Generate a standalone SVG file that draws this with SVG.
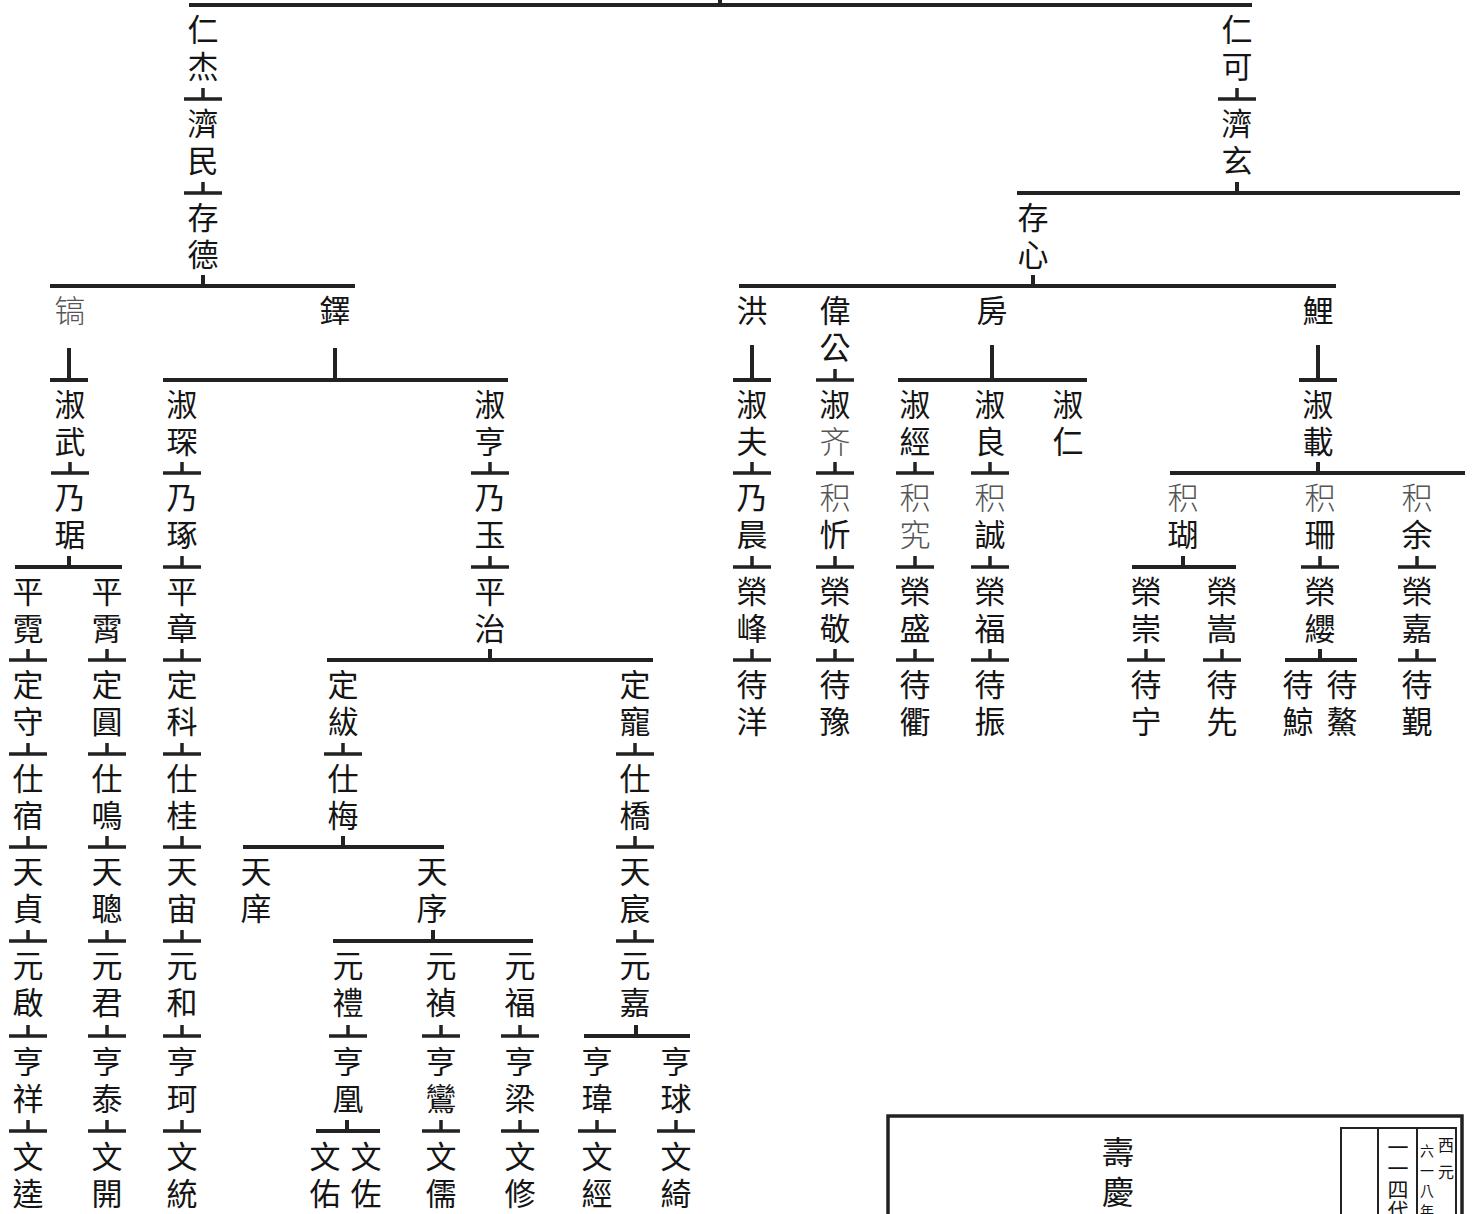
<svg xmlns="http://www.w3.org/2000/svg" xmlns:xlink="http://www.w3.org/1999/xlink" width="1475" height="1214" viewBox="0 0 1475 1214">
<style>
.n{font-family:"Noto Sans CJK TC","Noto Sans CJK SC",sans-serif;font-size:31px;fill:#151515;writing-mode:vertical-rl;letter-spacing:6px}
.l{font-weight:300;fill:#555}
.c{fill:none;stroke:#222;stroke-width:4}
.t{fill:none;stroke:#222;stroke-width:3.5}
.box{fill:none;stroke:#222}
.s{font-family:"Noto Sans CJK TC","Noto Sans CJK SC",sans-serif;fill:#151515;writing-mode:vertical-rl}
</style>
<defs>
<path id="tee" d="M-19,0H19M0,0V-11" class="t"/>
</defs>
<rect width="1475" height="1214" fill="#fff"/>
<g id="connectors">
<path class="c" d="M720,0V5M189,5H1252"/>
<use xlink:href="#tee" x="203" y="99"/>
<use xlink:href="#tee" x="203" y="193"/>
<path class="c" d="M50,286H355M203,275V286"/>
<path class="c" d="M69,348V380M50,380H88"/>
<path class="c" d="M335,348V380M163,380H508"/>
<use xlink:href="#tee" x="70" y="473"/>
<use xlink:href="#tee" x="182" y="473"/>
<use xlink:href="#tee" x="490" y="473"/>
<path class="c" d="M15,567H122M69,556V567"/>
<use xlink:href="#tee" x="182" y="567"/>
<use xlink:href="#tee" x="490" y="567"/>
<use xlink:href="#tee" x="28" y="660"/>
<use xlink:href="#tee" x="107" y="660"/>
<use xlink:href="#tee" x="182" y="660"/>
<path class="c" d="M327,660H653M490,649V660"/>
<use xlink:href="#tee" x="28" y="754"/>
<use xlink:href="#tee" x="107" y="754"/>
<use xlink:href="#tee" x="182" y="754"/>
<use xlink:href="#tee" x="343" y="754"/>
<use xlink:href="#tee" x="635" y="754"/>
<use xlink:href="#tee" x="28" y="847"/>
<use xlink:href="#tee" x="107" y="847"/>
<use xlink:href="#tee" x="182" y="847"/>
<path class="c" d="M243,847H444M343,836V847"/>
<use xlink:href="#tee" x="635" y="847"/>
<use xlink:href="#tee" x="28" y="941"/>
<use xlink:href="#tee" x="107" y="941"/>
<use xlink:href="#tee" x="182" y="941"/>
<path class="c" d="M333,941H533M433,930V941"/>
<use xlink:href="#tee" x="635" y="941"/>
<use xlink:href="#tee" x="28" y="1036"/>
<use xlink:href="#tee" x="107" y="1036"/>
<use xlink:href="#tee" x="182" y="1036"/>
<use xlink:href="#tee" x="348" y="1036"/>
<use xlink:href="#tee" x="441" y="1036"/>
<use xlink:href="#tee" x="520" y="1036"/>
<path class="c" d="M584,1036H690M636,1025V1036"/>
<use xlink:href="#tee" x="28" y="1131"/>
<use xlink:href="#tee" x="107" y="1131"/>
<use xlink:href="#tee" x="182" y="1131"/>
<path class="c" d="M316,1131H380M347,1120V1131"/>
<use xlink:href="#tee" x="441" y="1131"/>
<use xlink:href="#tee" x="520" y="1131"/>
<use xlink:href="#tee" x="597" y="1131"/>
<use xlink:href="#tee" x="676" y="1131"/>
<use xlink:href="#tee" x="1237" y="99"/>
<path class="c" d="M1017,193H1460M1237,182V193"/>
<path class="c" d="M739,286H1336M1033,275V286"/>
<path class="c" d="M752,345V380M733,380H771"/>
<use xlink:href="#tee" x="835" y="380"/>
<path class="c" d="M992,345V380M898,380H1087"/>
<path class="c" d="M1318,345V380M1299,380H1337"/>
<use xlink:href="#tee" x="752" y="473"/>
<use xlink:href="#tee" x="835" y="473"/>
<use xlink:href="#tee" x="915" y="473"/>
<use xlink:href="#tee" x="990" y="473"/>
<path class="c" d="M1170,473H1465M1318,462V473"/>
<use xlink:href="#tee" x="752" y="567"/>
<use xlink:href="#tee" x="835" y="567"/>
<use xlink:href="#tee" x="915" y="567"/>
<use xlink:href="#tee" x="990" y="567"/>
<path class="c" d="M1132,567H1236M1183,556V567"/>
<use xlink:href="#tee" x="1320" y="567"/>
<use xlink:href="#tee" x="1417" y="567"/>
<use xlink:href="#tee" x="752" y="660"/>
<use xlink:href="#tee" x="835" y="660"/>
<use xlink:href="#tee" x="915" y="660"/>
<use xlink:href="#tee" x="990" y="660"/>
<use xlink:href="#tee" x="1146" y="660"/>
<use xlink:href="#tee" x="1222" y="660"/>
<path class="c" d="M1285,660H1357M1320,649V660"/>
<use xlink:href="#tee" x="1417" y="660"/>
</g>
<g id="n-renjie"><text class="n" x="203" y="14">仁杰</text></g>
<g id="n-jimin"><text class="n" x="203" y="108">濟民</text></g>
<g id="n-cunde"><text class="n" x="203" y="202">存德</text></g>
<g id="n-gao"><text class="n l" x="70" y="295">镐</text></g>
<g id="n-duo"><text class="n" x="335" y="295">鐸</text></g>
<g id="n-shuwu"><text class="n" x="70" y="389">淑武</text></g>
<g id="n-shuchen"><text class="n" x="182" y="389">淑琛</text></g>
<g id="n-shuheng"><text class="n" x="490" y="389">淑亨</text></g>
<g id="n-naiju"><text class="n" x="70" y="482">乃琚</text></g>
<g id="n-naizhuo"><text class="n" x="182" y="482">乃琢</text></g>
<g id="n-naiyu"><text class="n" x="490" y="482">乃玉</text></g>
<g id="n-pingni"><text class="n" x="28" y="576">平霓</text></g>
<g id="n-pingxiao"><text class="n" x="107" y="576">平霄</text></g>
<g id="n-pingzhang"><text class="n" x="182" y="576">平章</text></g>
<g id="n-pingzhi"><text class="n" x="490" y="576">平治</text></g>
<g id="n-dingshou"><text class="n" x="28" y="669">定守</text></g>
<g id="n-dingyuan"><text class="n" x="107" y="669">定圓</text></g>
<g id="n-dingke"><text class="n" x="182" y="669">定科</text></g>
<g id="n-dingfu"><text class="n" x="343" y="669">定紱</text></g>
<g id="n-dingchong"><text class="n" x="635" y="669">定寵</text></g>
<g id="n-shisu"><text class="n" x="28" y="763">仕宿</text></g>
<g id="n-shiming"><text class="n" x="107" y="763">仕鳴</text></g>
<g id="n-shigui"><text class="n" x="182" y="763">仕桂</text></g>
<g id="n-shimei"><text class="n" x="343" y="763">仕梅</text></g>
<g id="n-shiqiao"><text class="n" x="635" y="763">仕橋</text></g>
<g id="n-tianzhen"><text class="n" x="28" y="856">天貞</text></g>
<g id="n-tiancong"><text class="n" x="107" y="856">天聰</text></g>
<g id="n-tianzhou"><text class="n" x="182" y="856">天宙</text></g>
<g id="n-tianxiang"><text class="n" x="256" y="856">天庠</text></g>
<g id="n-tianxu"><text class="n" x="432" y="856">天序</text></g>
<g id="n-tianchen"><text class="n" x="635" y="856">天宸</text></g>
<g id="n-yuanqi"><text class="n" x="28" y="950">元啟</text></g>
<g id="n-yuanjun"><text class="n" x="107" y="950">元君</text></g>
<g id="n-yuanhe"><text class="n" x="182" y="950">元和</text></g>
<g id="n-yuanli"><text class="n" x="348" y="950">元禮</text></g>
<g id="n-yuanzhen"><text class="n" x="441" y="950">元禎</text></g>
<g id="n-yuanfu"><text class="n" x="520" y="950">元福</text></g>
<g id="n-yuanjia"><text class="n" x="635" y="950">元嘉</text></g>
<g id="n-hengxiang"><text class="n" x="28" y="1046">亨祥</text></g>
<g id="n-hengtai"><text class="n" x="107" y="1046">亨泰</text></g>
<g id="n-hengke"><text class="n" x="182" y="1046">亨珂</text></g>
<g id="n-henghuang"><text class="n" x="348" y="1046">亨凰</text></g>
<g id="n-hengluan"><text class="n" x="441" y="1046">亨鸞</text></g>
<g id="n-hengliang"><text class="n" x="520" y="1046">亨梁</text></g>
<g id="n-hengwei"><text class="n" x="597" y="1046">亨瑋</text></g>
<g id="n-hengqiu"><text class="n" x="676" y="1046">亨球</text></g>
<g id="n-wenkui"><text class="n" x="28" y="1141">文逵</text></g>
<g id="n-wenkai"><text class="n" x="107" y="1141">文開</text></g>
<g id="n-wentong"><text class="n" x="182" y="1141">文統</text></g>
<g id="n-wenyou"><text class="n" x="325" y="1141">文佑</text></g>
<g id="n-wenzuo"><text class="n" x="366" y="1141">文佐</text></g>
<g id="n-wenru"><text class="n" x="441" y="1141">文儒</text></g>
<g id="n-wenxiu"><text class="n" x="520" y="1141">文修</text></g>
<g id="n-wenjing"><text class="n" x="597" y="1141">文經</text></g>
<g id="n-wenqi"><text class="n" x="676" y="1141">文綺</text></g>
<g id="n-renke"><text class="n" x="1237" y="14">仁可</text></g>
<g id="n-jixuan"><text class="n" x="1237" y="108">濟玄</text></g>
<g id="n-cunxin"><text class="n" x="1033" y="202">存心</text></g>
<g id="n-hong"><text class="n" x="752" y="295">洪</text></g>
<g id="n-weigong"><text class="n" x="835" y="295">偉公</text></g>
<g id="n-fang"><text class="n" x="992" y="295">房</text></g>
<g id="n-li"><text class="n" x="1318" y="295">鯉</text></g>
<g id="n-shufu"><text class="n" x="752" y="389">淑夫</text></g>
<g id="n-shuqi"><text class="n" x="835" y="389">淑<tspan class="l">齐</tspan></text></g>
<g id="n-shujing"><text class="n" x="915" y="389">淑經</text></g>
<g id="n-shuliang"><text class="n" x="990" y="389">淑良</text></g>
<g id="n-shuren"><text class="n" x="1068" y="389">淑仁</text></g>
<g id="n-shuzai"><text class="n" x="1318" y="389">淑載</text></g>
<g id="n-naichen"><text class="n" x="752" y="482">乃晨</text></g>
<g id="n-jixin"><text class="n" x="835" y="482"><tspan class="l">积</tspan>忻</text></g>
<g id="n-jijiu"><text class="n l" x="915" y="482">积究</text></g>
<g id="n-jicheng"><text class="n" x="990" y="482"><tspan class="l">积</tspan>誠</text></g>
<g id="n-jihu"><text class="n" x="1183" y="482"><tspan class="l">积</tspan>瑚</text></g>
<g id="n-jishan"><text class="n" x="1320" y="482"><tspan class="l">积</tspan>珊</text></g>
<g id="n-jiyu"><text class="n" x="1417" y="482"><tspan class="l">积</tspan>余</text></g>
<g id="n-rongfeng"><text class="n" x="752" y="576">榮峰</text></g>
<g id="n-rongjing"><text class="n" x="835" y="576">榮敬</text></g>
<g id="n-rongsheng"><text class="n" x="915" y="576">榮盛</text></g>
<g id="n-rongfu"><text class="n" x="990" y="576">榮福</text></g>
<g id="n-rongchong"><text class="n" x="1146" y="576">榮崇</text></g>
<g id="n-rongsong"><text class="n" x="1222" y="576">榮嵩</text></g>
<g id="n-rongying"><text class="n" x="1320" y="576">榮纓</text></g>
<g id="n-rongjia"><text class="n" x="1417" y="576">榮嘉</text></g>
<g id="n-daiyang"><text class="n" x="752" y="669">待洋</text></g>
<g id="n-daiyu"><text class="n" x="835" y="669">待豫</text></g>
<g id="n-daiqu"><text class="n" x="915" y="669">待衢</text></g>
<g id="n-daizhen"><text class="n" x="990" y="669">待振</text></g>
<g id="n-daining"><text class="n" x="1146" y="669">待宁</text></g>
<g id="n-daixian"><text class="n" x="1222" y="669">待先</text></g>
<g id="n-daijing"><text class="n" x="1298" y="669">待鯨</text></g>
<g id="n-daiao"><text class="n" x="1342" y="669">待鰲</text></g>
<g id="n-daijin"><text class="n" x="1417" y="669">待覲</text></g>
<g id="title-box">
<rect class="box" x="888" y="1116" width="574" height="120" stroke-width="3.5"/>
<rect class="box" x="1341" y="1128" width="115" height="110" stroke-width="2"/>
<path class="box" stroke-width="2" d="M1378,1128V1214M1417,1128V1214"/>
<text class="s" x="1118" y="1136" font-size="32" letter-spacing="8">壽慶</text>
<text class="s" x="1398" y="1137" font-size="21">一一四代</text>
<text class="s" x="1446" y="1137" font-size="16" letter-spacing="11">西元</text>
<text class="s" x="1427" y="1144" font-size="14" letter-spacing="6">六一八年</text>
</g>
</svg>
